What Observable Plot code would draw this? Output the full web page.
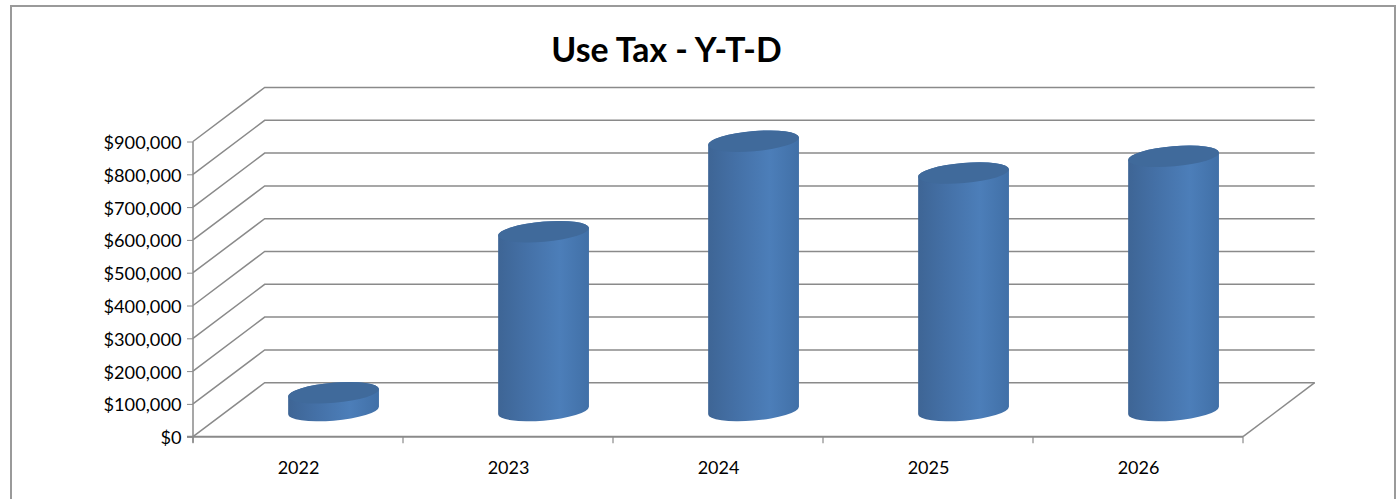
<!DOCTYPE html>
<html>
<head>
<meta charset="utf-8">
<script src="https://cdn.jsdelivr.net/npm/d3@7"></script>
<script src="https://cdn.jsdelivr.net/npm/@observablehq/plot@0.6"></script>
<style>
  html, body { margin: 0; padding: 0; background: #fff; overflow: hidden; }
  #chart { position: relative; width: 1397px; height: 499px; }
  #chart svg { display: block; }
  #border { position: absolute; left: 10px; top: 5px; width: 1386px; height: 494px;
            border: solid #9a9a9a; border-width: 2px 2px 0 2px; box-sizing: border-box; pointer-events: none; }
</style>
</head>
<body>
<div id="chart"><div id="border"></div></div>
<script>
const chartTitle = "Use Tax - Y-T-D";
const years = ["2022", "2023", "2024", "2025", "2026"];
const useTax = [54000, 545000, 821000, 724000, 775000];
const yTicks = [0, 100000, 200000, 300000, 400000, 500000, 600000, 700000, 800000, 900000];

const rows = years.map((year, i) => ({year, value: useTax[i]}));

// Oblique projection of the chart's depth axis, and cylinder cross-section.
const depthX = 71.7, depthY = 54;
const GRID = "#8a8a8a";
const ell = {a: 45.55, b: 10.1, rot: -4.9, extX: 45.4, extY: 3.7};

function svgEl(name, attrs, parent) {
  const e = document.createElementNS("http://www.w3.org/2000/svg", name);
  for (const k in attrs) e.setAttribute(k, attrs[k]);
  if (parent) parent.appendChild(e);
  return e;
}

function renderWalls(index, {x, y}, values, dims) {
  const g = svgEl("g", {fill: "none", stroke: GRID});
  const bw = x.bandwidth();
  const left = x(years[0]), right = x(years[years.length - 1]) + bw;
  const y0 = y(0);
  for (const t of yTicks) {
    const yy = y(t);
    svgEl("path", {"stroke-width": 1.5,
      d: `M${left},${yy}L${left + depthX},${yy - depthY}L${right + depthX},${yy - depthY}`}, g);
  }
  svgEl("path", {"stroke-width": 1.5, d: `M${left},${y(yTicks[yTicks.length - 1])}L${left},${y0 + 6}`}, g);
  svgEl("path", {"stroke-width": 2, d: `M${left - 6},${y0}L${right},${y0}`}, g);
  svgEl("path", {"stroke-width": 1.5, d: `M${right},${y0}L${right + depthX},${y0 - depthY}`}, g);
  for (let i = 0; i <= years.length; i++) {
    const xx = left + i * bw;
    svgEl("path", {"stroke-width": 1.2, d: `M${xx},${y0}L${xx},${y0 + 6.5}`}, g);
  }
  return g;
}

function renderCylinders(index, {x, y}) {
  const g = svgEl("g", {});
  const defs = svgEl("defs", {}, g);
  const grad = svgEl("linearGradient", {id: "cyl", x1: 0, x2: 1, y1: 0, y2: 0}, defs);
  [[0, "#3e6595"], [0.3, "#4470a6"], [0.68, "#4c7eb9"], [1, "#4170a7"]].forEach(([o, c]) =>
    svgEl("stop", {offset: o, "stop-color": c}, grad));
  const bw = x.bandwidth();
  const {a, b, rot, extX, extY} = ell;
  const lift = depthY / 2 - 0.8;
  for (const i of index) {
    const cx = x(rows[i].year) + bw / 2 + depthX / 2 - 0.3;
    const yBase = y(0) - lift;
    const yTop = y(rows[i].value) - lift;
    const lx = cx - extX, rx = cx + extX;
    svgEl("path", {fill: "url(#cyl)", d:
      `M${lx},${yTop + extY}L${lx},${yBase + extY}` +
      `A${a},${b} ${rot} 0 0 ${rx},${yBase - extY}` +
      `L${rx},${yTop - extY}` +
      `A${a},${b} ${rot} 0 0 ${lx},${yTop + extY}Z`}, g);
    svgEl("ellipse", {cx, cy: yTop, rx: a, ry: b, fill: "#406a9b",
      transform: `rotate(${rot} ${cx} ${yTop})`}, g);
  }
  return g;
}

const chart = Plot.plot({
  width: 1397,
  height: 499,
  marginLeft: 193,
  marginRight: 154,
  marginTop: 141.5,
  marginBottom: 62.3,
  style: {fontFamily: "Lato, sans-serif", background: "transparent", overflow: "visible"},
  x: {type: "band", domain: years, padding: 0, round: false, label: null},
  y: {domain: [0, 900000], label: null},
  marks: [
    Plot.ruleY(yTicks, {y: d => d, render: renderWalls}),
    Plot.axisY({ticks: yTicks, tickSize: 6, text: null, stroke: GRID, label: null}),
    Plot.axisY({ticks: yTicks, tickFormat: d3.format("$,"), tickSize: 0, tickPadding: 12, dy: 1.2,
      fill: "#000", fontSize: 18.2, label: null}),
    Plot.axisX({tickSize: 0, tickPadding: 24, fill: "#000", fontSize: 18, label: null}),
    Plot.barY(rows, {x: "year", y: "value", render: renderCylinders}),
    Plot.text([chartTitle], {text: d => d, frameAnchor: "top", dx: -52, dy: -104,
      fontSize: 33.8, fontWeight: 700, fill: "#000"})
  ]
});
document.getElementById("chart").prepend(chart);
</script>
</body>
</html>
